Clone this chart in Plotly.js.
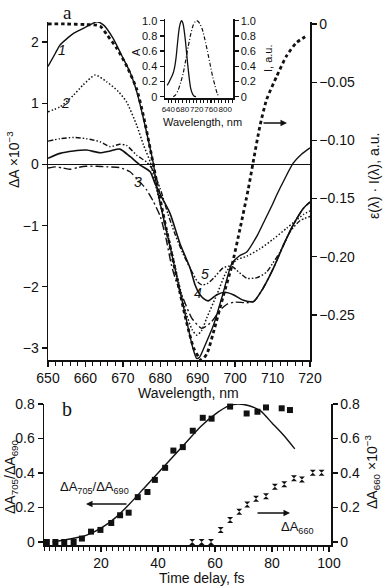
<!DOCTYPE html>
<html><head><meta charset="utf-8">
<script src="https://cdn.plot.ly/plotly-3.0.1.min.js"></script>
<style>html,body{margin:0;padding:0;background:#fff}#c{width:383px;height:587px}</style>
</head><body><div id="c"></div>
<script>
// ---- Panel a: ΔA spectra (×10^-3) ----
const c1_wl = [650,652,653.2,656.8,660.3,663,664.8,667.4,670.1,671.9,673.7,675.5,677.3,678.2,679,681.3,683,685,687,688.7,689.7,690.5,692,694.2,696.8,699.1,701,703.1,706,708,710,711.1,713.3,715.5,717.8,720];
const c1_val = [1.6,1.82,1.95,2.14,2.25,2.33,2.28,2.06,1.73,1.51,1.19,0.75,0.26,0.0,-0.35,-1.0,-1.45,-2.0,-2.55,-3.0,-3.17,-3.15,-2.95,-2.63,-2.1,-1.62,-1.5,-1.43,-1.15,-0.9,-0.65,-0.5,-0.23,0.02,0.17,0.27];

const c2_wl = [650,653.2,656.8,659.4,662.6,665.7,668.8,671,673.7,675.5,677.3,679,681,683,685,687,688.5,689.7,691,692.4,695.1,697.7,700.4,703.1,706.6,710.2,713.8,716,718.2,720];
const c2_val = [0.86,0.94,1.13,1.30,1.46,1.35,1.19,1.02,0.64,0.32,0.04,-0.4,-0.9,-1.4,-1.95,-2.45,-2.7,-2.79,-2.72,-2.51,-2.13,-1.75,-1.56,-1.5,-1.38,-1.22,-1.04,-0.93,-0.82,-0.76];

const c3_wl = [650,652,654,656,658,660,663,666,669,671.9,673.7,675.5,676.4,678.1,680,681.5,683,684.3,686.1,688.4,691.1,693.7,696,698,700,703,705,707.5,710.2,712.9,715.5,718.2,720];
const c3_val = [-0.06,-0.04,-0.06,-0.08,-0.05,-0.03,-0.03,-0.04,-0.05,-0.12,-0.23,-0.35,-0.42,-0.6,-0.85,-1.2,-1.65,-1.92,-2.19,-2.51,-2.68,-2.57,-2.38,-2.28,-2.25,-2.26,-2.24,-2.02,-1.70,-1.32,-0.99,-0.72,-0.62];

const c4_wl = [650,653.2,656.8,660.3,663.9,666.6,669.2,671.9,674.6,677.3,678.5,680.5,682.6,685.3,688,689.3,690.5,691.5,692.8,695.1,697.3,699.5,702.2,704.9,707.5,710.2,712.9,715.5,718.2,720];
const c4_val = [0.1,0.18,0.22,0.235,0.19,0.22,0.25,0.13,-0.01,-0.12,-0.3,-0.55,-0.8,-1.3,-1.7,-1.97,-2.12,-2.19,-2.23,-2.13,-2.09,-2.13,-2.22,-2.24,-2.02,-1.70,-1.32,-0.99,-0.72,-0.61];

const c5_wl = [650,653.2,656.8,660.3,663.9,666.6,669.2,671,673.7,676.3,677.7,680,682,684,686,688,690,691.1,692.5,694.2,696.8,699,701,703.1,705.8,708.4,710,712,714.7,717.3,720];
const c5_val = [0.38,0.42,0.44,0.42,0.37,0.29,0.33,0.31,0.15,0.04,-0.06,-0.4,-0.8,-1.15,-1.45,-1.7,-1.92,-1.97,-1.95,-1.86,-1.69,-1.66,-1.76,-1.86,-1.85,-1.76,-1.62,-1.43,-1.1,-0.92,-0.85];

// ε(λ)·I(λ), a.u. (right axis)
const ei_wl = [650,655,660,663,664,665.7,668.4,671,673.7,675.5,677.3,679,681,683,685,687,689,691,692.5,694.2,696.8,699.1,701.3,703.5,704.8,706.6,708.4,711.1,713.8,716.4,718.7];
const ei_val = [0,0,-0.0005,-0.001,-0.002,-0.009,-0.021,-0.036,-0.056,-0.079,-0.107,-0.135,-0.167,-0.197,-0.227,-0.256,-0.279,-0.289,-0.283,-0.265,-0.234,-0.208,-0.176,-0.142,-0.119,-0.088,-0.065,-0.045,-0.027,-0.016,-0.011];

// Inset: absorption A and laser spectrum I
const abs_wl = [637,642,647,651,655,659,662,665,668,671,674,677,679,682,685,688,691,694,697,700,703,707,712,718];
const abs_val = [0.15,0.19,0.24,0.28,0.33,0.42,0.52,0.66,0.80,0.91,0.97,1.0,0.99,0.95,0.86,0.74,0.60,0.45,0.32,0.2,0.11,0.05,0.01,0];
const las_wl = [654,660,668,675,682,689,696,703,710,716,720,724,729,736,743,750,757,764,771,777,782];
const las_val = [0,0.02,0.09,0.19,0.31,0.48,0.66,0.82,0.94,0.99,1.0,0.99,0.96,0.88,0.75,0.6,0.44,0.28,0.15,0.05,0];

// ---- Panel b ----
const sq_t = [1.0,4.0,7.1,10.4,13.3,16.5,19.8,23.6,26.7,29.7,32.9,36.3,38.9,42.5,45.4,48.7,52.2,55.7,58.8,65.3,71.1,74.9,77.9,80.7,83.4,86.3];
const sq_v = [0,0,0,0,0.02,0.06,0.07,0.11,0.155,0.17,0.26,0.29,0.36,0.43,0.53,0.55,0.645,0.72,0.715,0.785,0.745,0.755,0.78,0.805,0.775,0.765];
const fit_t = [3,10,15,20,25,30,35,40,45,50,55,60,65,68,72,76,80,84,88];
const fit_v = [0,0.02,0.04,0.08,0.14,0.22,0.31,0.40,0.49,0.58,0.67,0.74,0.79,0.80,0.79,0.76,0.69,0.62,0.54];
const hg_t = [52,55.3,58.6,62,65.3,68.5,71.3,74.4,77.9,81,84.3,87.7,90.5,94.3,97.4];
const hg_v = [0,0,0,0.07,0.128,0.176,0.218,0.251,0.265,0.32,0.335,0.369,0.363,0.402,0.402];

const W=383,H=587;
const px=x=>x/W, py=y=>1-y/H;
const K='#111';
const F='"Liberation Sans", Arial, Helvetica, sans-serif';
const sm={shape:'spline',smoothing:0.6,color:K};

const traces=[
 {x:c1_wl,y:c1_val,mode:'lines',line:Object.assign({},sm,{width:1.4}),xaxis:'x',yaxis:'y'},
 {x:c2_wl,y:c2_val,mode:'lines',line:Object.assign({},sm,{width:1.5,dash:'1.5px,2px'}),xaxis:'x',yaxis:'y'},
 {x:c3_wl,y:c3_val,mode:'lines',line:Object.assign({},sm,{width:1.4,dash:'8px,3px,2px,3px'}),xaxis:'x',yaxis:'y'},
 {x:c4_wl,y:c4_val,mode:'lines',line:Object.assign({},sm,{width:1.6}),xaxis:'x',yaxis:'y'},
 {x:c5_wl,y:c5_val,mode:'lines',line:Object.assign({},sm,{width:1.4,dash:'5px,2px,1.5px,2px,1.5px,2px'}),xaxis:'x',yaxis:'y'},
 {x:ei_wl,y:ei_val,mode:'lines',line:Object.assign({},sm,{width:2.8,dash:'3.5px,3px'}),xaxis:'x',yaxis:'y2'},
 {x:abs_wl,y:abs_val,mode:'lines',line:Object.assign({},sm,{width:1.3}),xaxis:'x3',yaxis:'y5'},
 {x:las_wl,y:las_val,mode:'lines',line:Object.assign({},sm,{width:1.2,dash:'4px,2px,1px,2px'}),xaxis:'x3',yaxis:'y6'},
 {x:fit_t,y:fit_v,mode:'lines',line:Object.assign({},sm,{width:1.4}),xaxis:'x2',yaxis:'y3'},
 {x:sq_t,y:sq_v,mode:'markers',marker:{symbol:'square',size:6,color:K},cliponaxis:false,xaxis:'x2',yaxis:'y3'},
 {x:hg_t,y:hg_v,mode:'markers',marker:{symbol:'hourglass',size:6,color:K,line:{width:0}},cliponaxis:false,xaxis:'x2',yaxis:'y4'}
];

const ax={showgrid:false,zeroline:false,showline:true,linecolor:K,linewidth:1.5,ticks:'outside',ticklen:5,tickwidth:1.3,tickcolor:K,tickangle:0,tickfont:{family:F,size:14,color:K}};
function A(o){return Object.assign({},ax,o);}

const layout={
 width:W,height:H,margin:{l:0,r:0,t:0,b:0},paper_bgcolor:'#fff',plot_bgcolor:'rgba(0,0,0,0)',showlegend:false,
 font:{family:F,color:K},
 xaxis:A({domain:[px(48),px(310)],range:[650,720],dtick:10,anchor:'y',minor:{dtick:2,ticks:'outside',ticklen:4,tickcolor:K,tickwidth:1}}),
 yaxis:A({domain:[py(360),py(22)],range:[-3.196,2.327],dtick:1,anchor:'x',zeroline:true,zerolinecolor:K,zerolinewidth:1.8}),
 yaxis2:A({overlaying:'y',side:'right',anchor:'x',range:[-0.2887,0.0017],tickvals:[0,-0.05,-0.1,-0.15,-0.2,-0.25],ticktext:['0','−0.05','−0.10','−0.15','−0.20','−0.25']}),
 xaxis3:A({domain:[px(165),px(233)],range:[630.7,822],anchor:'y5',tickvals:[640,680,720,760,800],ticklen:3,tickangle:0,tickfont:{family:F,size:8,color:K},minor:{dtick:10,ticks:'outside',ticklen:3,tickcolor:K,tickwidth:1}}),
 yaxis5:A({domain:[py(98.3),py(19)],range:[-0.021,1.022],anchor:'x3',tickvals:[0,0.2,0.4,0.6,0.8,1.0],ticktext:['0','0.2','0.4','0.6','0.8','1.0'],ticklen:4,tickfont:{family:F,size:11,color:K}}),
 yaxis6:A({overlaying:'y5',side:'right',anchor:'x3',range:[-0.021,1.022],tickvals:[0,0.2,0.4,0.6,0.8,1.0],ticktext:['0','0.2','0.4','0.6','0.8','1.0'],ticklen:4,tickfont:{family:F,size:11,color:K}}),
 xaxis2:A({domain:[px(44),px(331)],range:[0,100.7],tickvals:[20,40,60,80,100],anchor:'y3',minor:{dtick:2,ticks:'outside',ticklen:4,tickcolor:K,tickwidth:1}}),
 yaxis3:A({domain:[py(545),py(404)],range:[-0.0174,0.8],tickvals:[0,0.2,0.4,0.6,0.8],ticktext:['0','0.2','0.4','0.6','0.8'],anchor:'x2'}),
 yaxis4:A({overlaying:'y3',side:'right',anchor:'x2',range:[-0.0174,0.8],tickvals:[0,0.2,0.4,0.6,0.8],ticktext:['0','0.2','0.4','0.6','0.8']}),
 annotations:[]
};
function T(x,y,text,o){layout.annotations.push(Object.assign({xref:'paper',yref:'paper',x:px(x),y:py(y),text:text,showarrow:false,xanchor:'center',yanchor:'middle',font:{family:F,size:14,color:K}},o||{}));}
function AR(x,y,ax_){layout.annotations.push({xref:'paper',yref:'paper',x:px(x),y:py(y),ax:ax_,ay:0,text:'',showarrow:true,arrowhead:2,arrowsize:1,arrowwidth:1.3,arrowcolor:K});}
const SERIF='"Liberation Serif","DejaVu Serif",serif';
T(67,0,'a',{yanchor:'top',font:{family:SERIF,size:19,color:K}});
T(67,409,'b',{font:{family:SERIF,size:20,color:K}});
const IT={font:{family:F,size:14,color:K}};
T(62,50,'<i>1</i>',IT);T(65,103,'<i>2</i>',IT);T(138,182,'<i>3</i>',IT);T(198,293,'<i>4</i>',IT);T(205,274,'<i>5</i>',IT);
T(13,160,'ΔA ×10<sup>−3</sup>',{textangle:-90});
T(374,176,'ε(λ) · I(λ), a.u.',{textangle:-90});
T(188,393,'Wavelength, nm');
T(202,122,'Wavelength, nm',{font:{family:F,size:11,color:K}});
T(136,52,'A',{textangle:-90,font:{family:F,size:11,color:K}});
T(268,58,'I, a.u.',{textangle:-90,font:{family:F,size:11,color:K}});
AR(287,123,-25);
T(94,487,'ΔA<sub>705</sub>/ΔA<sub>690</sub>',{font:{family:F,size:13,color:K}});
AR(86,504,42);
T(297,527,'ΔA<sub>660</sub>',{font:{family:F,size:13,color:K}});
AR(290,513,-34);
T(11,477,'ΔA<sub>705</sub>/ΔA<sub>690</sub>',{textangle:-90});
T(372,472,'ΔA<sub>660</sub> ×10<sup>−3</sup>',{textangle:-90});
T(202,578,'Time delay, fs');
Plotly.newPlot('c',traces,layout,{staticPlot:true,displayModeBar:false});
</script></body></html>
